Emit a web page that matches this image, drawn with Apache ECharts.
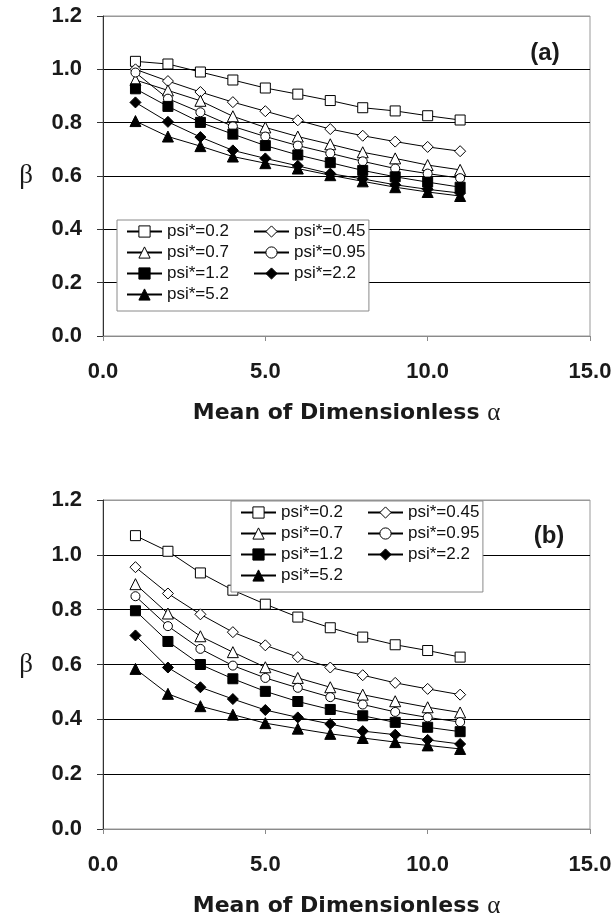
<!DOCTYPE html>
<html>
<head>
<meta charset="utf-8">
<script src="https://cdn.jsdelivr.net/npm/echarts@6/dist/echarts.min.js"></script>
<style>
  html, body { margin: 0; padding: 0; background: #fff; }
  #chart { width: 616px; height: 920px; }
</style>
</head>
<body>
<div id="chart"></div>
<script>
// ---------- DATA ----------

const alphaMeans = [1, 2, 3, 4, 5, 6, 7, 8, 9, 10, 11];
const psiNames = ['psi*=0.2', 'psi*=0.45', 'psi*=0.7', 'psi*=0.95', 'psi*=1.2', 'psi*=2.2', 'psi*=5.2'];
const xTicks = [0, 5, 10, 15];
const yTicks = [0, 0.2, 0.4, 0.6, 0.8, 1.0, 1.2];

// panel (a)
const betaA02 = [1.03, 1.02, 0.99, 0.96, 0.93, 0.907, 0.883, 0.856, 0.844, 0.826, 0.81];
const betaA045 = [1.0, 0.956, 0.915, 0.877, 0.843, 0.809, 0.776, 0.751, 0.729, 0.709, 0.693];
const betaA07 = [0.96, 0.921, 0.882, 0.824, 0.782, 0.748, 0.719, 0.689, 0.666, 0.641, 0.623];
const betaA095 = [0.988, 0.89, 0.839, 0.786, 0.748, 0.714, 0.685, 0.655, 0.628, 0.609, 0.592];
const betaA12 = [0.927, 0.861, 0.801, 0.757, 0.714, 0.679, 0.65, 0.621, 0.597, 0.577, 0.558];
const betaA22 = [0.876, 0.803, 0.746, 0.696, 0.666, 0.638, 0.609, 0.589, 0.567, 0.55, 0.536];
const betaA52 = [0.806, 0.748, 0.712, 0.673, 0.648, 0.628, 0.603, 0.58, 0.558, 0.54, 0.525];

// panel (b)
const betaB02 = [1.07, 1.013, 0.934, 0.871, 0.82, 0.773, 0.734, 0.70, 0.672, 0.651, 0.627];
const betaB045 = [0.955, 0.859, 0.783, 0.718, 0.67, 0.627, 0.589, 0.561, 0.533, 0.511, 0.49];
const betaB07 = [0.893, 0.786, 0.703, 0.645, 0.59, 0.551, 0.517, 0.49, 0.466, 0.444, 0.425];
const betaB095 = [0.849, 0.74, 0.657, 0.596, 0.551, 0.515, 0.481, 0.454, 0.427, 0.407, 0.39];
const betaB12 = [0.796, 0.684, 0.60, 0.548, 0.502, 0.465, 0.436, 0.413, 0.389, 0.371, 0.355];
const betaB22 = [0.706, 0.589, 0.517, 0.474, 0.434, 0.407, 0.383, 0.357, 0.344, 0.325, 0.31];
const betaB52 = [0.584, 0.493, 0.448, 0.417, 0.386, 0.366, 0.347, 0.332, 0.317, 0.305, 0.292];

const panelA = [betaA02, betaA045, betaA07, betaA095, betaA12, betaA22, betaA52];
const panelB = [betaB02, betaB045, betaB07, betaB095, betaB12, betaB22, betaB52];

// ---------- STYLE ----------

const sansFont = '"Liberation Sans", Arial, sans-serif';
const wideFont = '"DejaVu Sans", "Liberation Sans", sans-serif';
const serifFont = '"Liberation Serif", "DejaVu Serif", serif';
const inkColor = '#1a1a1a';

// marker per psi*: open square, open diamond, open triangle, open circle, then filled ones
const markerShapes = ['rect', 'diamond', 'triangle', 'circle', 'rect', 'diamond', 'triangle'];
const markerFills = ['#fff', '#fff', '#fff', '#fff', '#000', '#000', '#000'];
const markerSizes = [10, 11, 11, 9, 10, 11, 11];

let chart = echarts.init(document.getElementById('chart'));

function makeSeries(gridIndex, panel) {
	return panel.map(function (betas, i) {
		return {
			name: psiNames[i],
			type: 'line',
			xAxisIndex: gridIndex,
			yAxisIndex: gridIndex,
			data: alphaMeans.map((a, k) => [a, betas[k]]),
			symbol: markerShapes[i],
			symbolSize: markerSizes[i],
			showAllSymbol: true,
			lineStyle: { color: '#000', width: 1 },
			itemStyle: { color: markerFills[i], borderColor: '#000', borderWidth: 1 },
			emphasis: { disabled: true },
			animation: false
		};
	});
}

function makeXAxis(gridIndex) {
	return {
		type: 'value',
		gridIndex: gridIndex,
		min: xTicks[0],
		max: xTicks[xTicks.length - 1],
		interval: xTicks[1] - xTicks[0],
		name: '{a|Mean of Dimensionless }{b|α}',
		nameLocation: 'middle',
		nameGap: 65,
		nameTextStyle: {
			rich: {
				a: { fontSize: 22, fontWeight: 'bold', fontFamily: wideFont, color: inkColor },
				b: { fontSize: 25, fontFamily: serifFont, color: inkColor }
			}
		},
		axisLine: { show: true, lineStyle: { color: '#8a8a8a', width: 1 } },
		axisTick: { show: true, length: 5, lineStyle: { color: '#8a8a8a' } },
		axisLabel: {
			margin: 25,
			fontSize: 22,
			fontWeight: 'bold',
			fontFamily: sansFont,
			color: inkColor,
			formatter: v => v.toFixed(1)
		},
		splitLine: { show: false }
	};
}

function makeYAxis(gridIndex) {
	return {
		type: 'value',
		gridIndex: gridIndex,
		min: yTicks[0],
		max: yTicks[yTicks.length - 1],
		interval: 0.2,
		name: 'β',
		nameLocation: 'middle',
		nameRotate: 0,
		nameGap: 70,
		nameTextStyle: { fontSize: 27, fontFamily: serifFont, color: inkColor },
		axisLine: { show: true, lineStyle: { color: '#333', width: 1 } },
		axisTick: { show: true, length: 6, lineStyle: { color: '#333' } },
		axisLabel: {
			margin: 21,
			fontSize: 22,
			fontWeight: 'bold',
			fontFamily: sansFont,
			color: inkColor,
			formatter: v => v.toFixed(1)
		},
		splitLine: {
			show: true,
			lineStyle: { color: ['#999', '#000', '#000', '#000', '#000', '#000', '#999'], width: 1 }
		}
	};
}

// LEGENDS: one boxed column plus one overlay column per panel
const legendBase = {
	orient: 'vertical',
	itemWidth: 35,
	itemHeight: 14,
	itemGap: 4,
	selectedMode: false,
	itemStyle: { borderWidth: 1 },
	textStyle: { fontSize: 17, lineHeight: 16, color: '#111', fontFamily: sansFont }
};

function makeLegends(boxLeft, boxTop) {
	return [
		Object.assign({}, legendBase, {
			left: boxLeft,
			top: boxTop,
			z: 4,
			padding: [3, 140, 8, 9],
			backgroundColor: '#fff',
			borderColor: '#8a8a8a',
			borderWidth: 1,
			data: [psiNames[0], psiNames[2], psiNames[4], psiNames[6]]
		}),
		Object.assign({}, legendBase, {
			left: boxLeft + 136,
			top: boxTop + 3,
			z: 5,
			padding: 0,
			data: [psiNames[1], psiNames[3], psiNames[5]]
		})
	];
}

let option = {
	backgroundColor: '#fff',
	animation: false,
	textStyle: { fontFamily: sansFont },
	grid: [
		{ left: 103, top: 16, width: 487, height: 320, show: true, borderColor: '#999', borderWidth: 1 },
		{ left: 103, top: 500, width: 487, height: 329, show: true, borderColor: '#999', borderWidth: 1 }
	],
	xAxis: [makeXAxis(0), makeXAxis(1)],
	yAxis: [makeYAxis(0), makeYAxis(1)],
	legend: makeLegends(117, 220).concat(makeLegends(231, 501)),
	graphic: [
		{
			type: 'text', x: 545, y: 53,
			style: { text: '(a)', align: 'center', verticalAlign: 'middle', fontSize: 24, fontWeight: 'bold', fontFamily: sansFont, fill: inkColor }
		},
		{
			type: 'text', x: 549, y: 536,
			style: { text: '(b)', align: 'center', verticalAlign: 'middle', fontSize: 24, fontWeight: 'bold', fontFamily: sansFont, fill: inkColor }
		}
	],
	series: makeSeries(0, panelA).concat(makeSeries(1, panelB))
};

chart.setOption(option);
</script>
</body>
</html>
